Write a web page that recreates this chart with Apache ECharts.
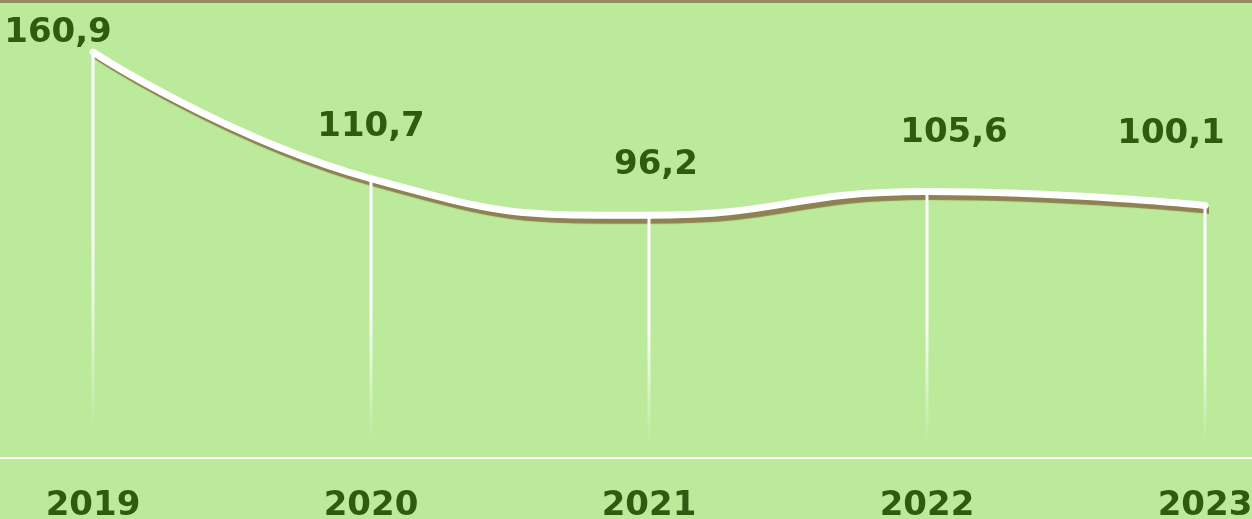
<!DOCTYPE html>
<html>
<head>
<meta charset="utf-8">
<script src="https://cdn.jsdelivr.net/npm/echarts@6/dist/echarts.min.js"></script>
<style>
  html, body { margin: 0; padding: 0; background: #baea9a; }
  .wrap { position: relative; width: 1252px; height: 519px; overflow: hidden; }
  .topline { position: absolute; left: 0; top: 0; width: 100%; height: 3px; background: #928b5f; z-index: 2; }
  #chart { position: absolute; left: 0; top: 0; width: 1252px; height: 519px; }
</style>
</head>
<body>
<div class="wrap">
  <div class="topline"></div>
  <div id="chart"></div>
</div>
<script>
// данные
var years = ["2019", "2020", "2021", "2022", "2023"];
var values = [160.9, 110.7, 96.2, 105.6, 100.1];

var labelColor = "#2f5b10";
var fontSize = 34;
// сдвиг подписей относительно точки
var labelShift = [[-35, -19], [0, -51], [7, -50], [27, -58], [-34, -71]];

var chart = echarts.init(document.getElementById("chart"));

var lineData = values.map(function (v, i) {
  return {
    value: v,
    label: { offset: labelShift[i] }
  };
});

var option = {
  backgroundColor: "transparent",
  animation: false,
  grid: [
    { left: 93, right: 47, top: 52, bottom: 61, outerBoundsMode: "none", containLabel: false },
    { left: 0, right: 0, top: 52, bottom: 61, outerBoundsMode: "none", containLabel: false }
  ],
  xAxis: [
    {
      type: "category",
      gridIndex: 0,
      data: years,
      boundaryGap: false,
      axisLine: { show: false },
      axisTick: { show: false },
      splitLine: { show: false },
      axisLabel: {
        color: labelColor,
        fontFamily: "DejaVu Sans",
        fontWeight: "bold",
        fontSize: fontSize,
        margin: 31
      }
    },
    {
      type: "value",
      gridIndex: 1,
      min: 0,
      max: 1,
      axisLine: { show: true, lineStyle: { color: "#ffffff", width: 2 } },
      axisTick: { show: false },
      axisLabel: { show: false },
      splitLine: { show: false }
    }
  ],
  yAxis: [
    { type: "value", gridIndex: 0, min: 0, max: 160.9, show: false },
    { type: "value", gridIndex: 1, min: 0, max: 1, show: false }
  ],
  series: [
    {
      type: "line",
      xAxisIndex: 0,
      yAxisIndex: 0,
      data: lineData,
      smooth: 0.5,
      symbol: "circle",
      symbolSize: 2,
      showSymbol: true,
      itemStyle: { color: "#ffffff" },
      lineStyle: {
        color: "#ffffff",
        width: 7,
        cap: "round",
        shadowColor: "#8e8152",
        shadowBlur: 1,
        shadowOffsetX: 5,
        shadowOffsetY: 5
      },
      label: {
        show: true,
        position: "inside",
        color: labelColor,
        fontFamily: "DejaVu Sans",
        fontWeight: "bold",
        fontSize: fontSize,
        formatter: function (p) {
          return String(p.value).replace(".", ",");
        }
      },
      z: 2
    },
    {
      type: "bar",
      xAxisIndex: 0,
      yAxisIndex: 0,
      data: values,
      barWidth: 3,
      silent: true,
      itemStyle: {
        color: new echarts.graphic.LinearGradient(0, 0, 0, 1, [
          { offset: 0, color: "rgba(255,255,255,1)" },
          { offset: 0.45, color: "rgba(255,255,255,1)" },
          { offset: 0.95, color: "rgba(255,255,255,0)" },
          { offset: 1, color: "rgba(255,255,255,0)" }
        ])
      },
      z: 3
    }
  ]
};

chart.setOption(option);
</script>
</body>
</html>
